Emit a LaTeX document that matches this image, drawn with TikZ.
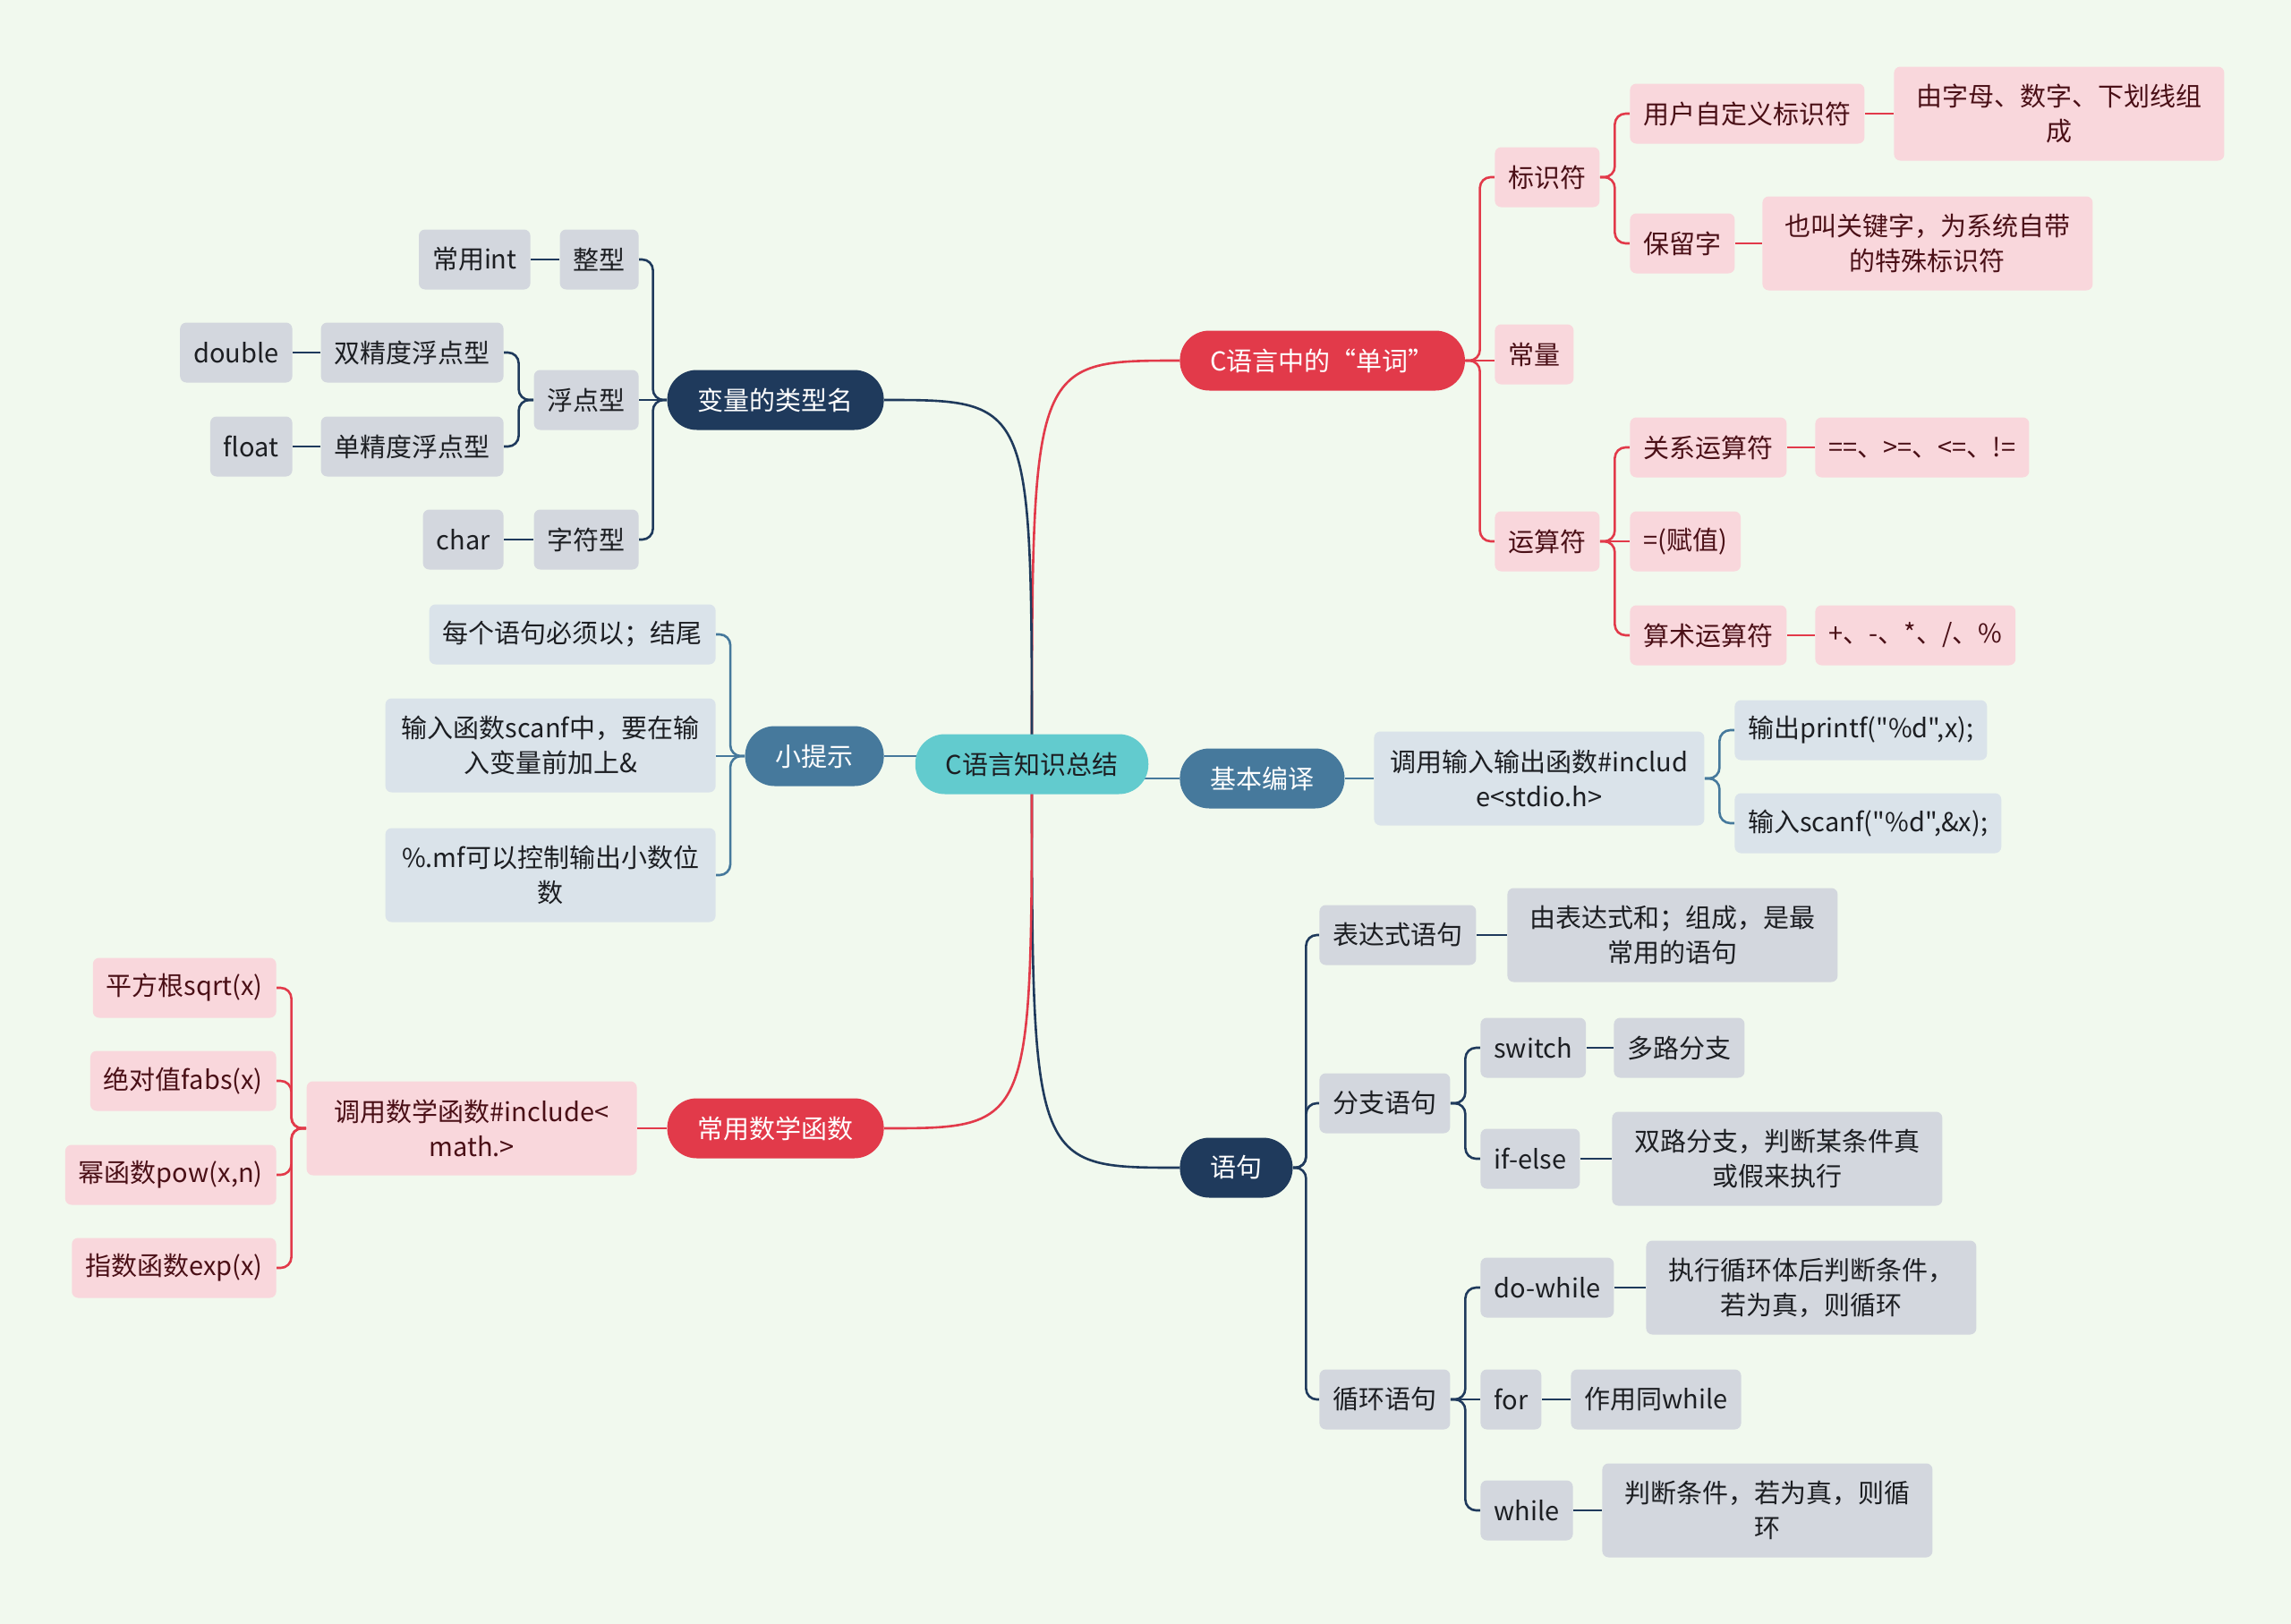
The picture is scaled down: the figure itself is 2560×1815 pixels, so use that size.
\documentclass[tikz,border=0pt]{standalone}
\usepackage{fontspec}
\setmainfont{Noto Sans CJK SC}[Ligatures=TeXOff]
\usepackage{tikz}
\usetikzlibrary{calc,backgrounds}
\definecolor{bgc}{HTML}{F1F9EE}
\definecolor{rootc}{HTML}{62CBCE}
\definecolor{redc}{HTML}{E23A4A}
\definecolor{navyc}{HTML}{1F3A5C}
\definecolor{bluec}{HTML}{46799C}
\definecolor{pinkc}{HTML}{F9D7DC}
\definecolor{grayc}{HTML}{D3D7DE}
\definecolor{paleblue}{HTML}{DAE3EA}
\definecolor{maroonc}{HTML}{4A0F16}
\definecolor{inkc}{HTML}{1C1E22}

\begin{document}
\begin{tikzpicture}[x=0.5pt, y=-0.5pt,
    every node/.style={font=\fontsize{14.5}{19.5}\selectfont, inner ysep=0pt, minimum height=33.5pt},
    mainbox/.style={fill=#1, text=white, rounded corners=16.5pt, inner xsep=17pt},
    leafbox/.style={fill=#1, rounded corners=3.5pt, inner xsep=7.5pt},
    redleaf/.style={leafbox=pinkc, text=maroonc},
    grayleaf/.style={leafbox=grayc, text=inkc},
    blueleaf/.style={leafbox=paleblue, text=inkc},
    wide/.style={align=center, minimum width=184.5pt, minimum height=52.5pt},
    link/.style={draw=#1, line width=1.3pt},
    fork/.style={link=#1, rounded corners=6pt, to path={-| ($(\tikztostart)!.5!(\tikztotarget)$) |- (\tikztotarget)}},
]
    \useasboundingbox(0,0)rectangle(2560,1815);
    % root
    \node[fill=rootc, text=inkc, rounded corners=16.5pt, inner xsep=17pt](root)at(1153,854){C语言知识总结};
    % main topics
    \node[mainbox=redc, anchor=west](word)at(1318,403){C语言中的“单词”};
    \node[mainbox=bluec, anchor=west](basic)at(1318,870){基本编译};
    \node[mainbox=navyc, anchor=west](stmt)at(1318,1305){语句};
    \node[mainbox=navyc, anchor=east](vars)at(988,447){变量的类型名};
    \node[mainbox=bluec, anchor=east](tips)at(988,845){小提示};
    \node[mainbox=redc, anchor=east](math)at(988,1261){常用数学函数};
    % words
    \node[redleaf, anchor=west](ident)at(1670,198){标识符};
    \node[redleaf, anchor=west](const)at(1670,396){常量};
    \node[redleaf, anchor=west](oper)at(1670,605){运算符};
    \node[redleaf, anchor=west](user)at(1821,127){用户自定义标识符};
    \node[redleaf, wide, anchor=west](userdesc)at(2116,127){由字母、数字、下划线组\\成};
    \node[redleaf, anchor=west](reserved)at(1821,272){保留字};
    \node[redleaf, wide, anchor=west](resdesc)at(1969,272){也叫关键字，为系统自带\\的特殊标识符};
    \node[redleaf, anchor=west](rel)at(1821,500){关系运算符};
    \node[redleaf, anchor=west](reldesc)at(2028,500){==、>=、<=、!=};
    \node[redleaf, anchor=west](assign)at(1821,605){=(赋值)};
    \node[redleaf, anchor=west](arith)at(1821,710){算术运算符};
    \node[redleaf, anchor=west](arithdesc)at(2028,710){+、-、*、/、\%};
    % compile
    \node[blueleaf, wide, anchor=west](stdio)at(1535,870){调用输入输出函数\#includ\\e<stdio.h>};
    \node[blueleaf, anchor=west](printf)at(1938,816){输出printf("\%d",x);};
    \node[blueleaf, anchor=west](scanf)at(1938,920){输入scanf("\%d",\&x);};
    % statements
    \node[grayleaf, anchor=west](expr)at(1474,1045){表达式语句};
    \node[grayleaf, wide, anchor=west](exprdesc)at(1684,1045){由表达式和；组成，是最\\常用的语句};
    \node[grayleaf, anchor=west](branch)at(1474,1233){分支语句};
    \node[grayleaf, anchor=west](swi)at(1654,1171){switch};
    \node[grayleaf, anchor=west](multi)at(1803,1171){多路分支};
    \node[grayleaf, anchor=west](ifelse)at(1654,1295){if-else};
    \node[grayleaf, wide, anchor=west](dual)at(1801,1295){双路分支，判断某条件真\\或假来执行};
    \node[grayleaf, anchor=west](loop)at(1474,1564){循环语句};
    \node[grayleaf, anchor=west](dowhile)at(1654,1439){do-while};
    \node[grayleaf, wide, anchor=west](dodesc)at(1839,1439){执行循环体后判断条件，\\若为真，则循环};
    \node[grayleaf, anchor=west](forloop)at(1654,1564){for};
    \node[grayleaf, anchor=west](fordesc)at(1755,1564){作用同while};
    \node[grayleaf, anchor=west](whileloop)at(1654,1688){while};
    \node[grayleaf, wide, anchor=west](whiledesc)at(1790,1688){判断条件，若为真，则循\\环};
    % variable types
    \node[grayleaf, anchor=east](inttype)at(714,290){整型};
    \node[grayleaf, anchor=east](intkw)at(593,290){常用int};
    \node[grayleaf, anchor=east](floattype)at(714,447){浮点型};
    \node[grayleaf, anchor=east](double)at(563,394){双精度浮点型};
    \node[grayleaf, anchor=east](doublekw)at(327,394){double};
    \node[grayleaf, anchor=east](single)at(563,499){单精度浮点型};
    \node[grayleaf, anchor=east](floatkw)at(327,499){float};
    \node[grayleaf, anchor=east](chartype)at(714,603){字符型};
    \node[grayleaf, anchor=east](charkw)at(563,603){char};
    % tips
    \node[blueleaf, anchor=east](tipa)at(800,709){每个语句必须以；结尾};
    \node[blueleaf, wide, anchor=east](tipb)at(800,833){输入函数scanf中，要在输\\入变量前加上\&};
    \node[blueleaf, wide, anchor=east](tipc)at(800,978){\%.mf可以控制输出小数位\\数};
    % math
    \node[redleaf, wide, anchor=east](mathinc)at(712,1261){调用数学函数\#include<\\math.>};
    \node[redleaf, anchor=east](sqrt)at(309,1104){平方根sqrt(x)};
    \node[redleaf, anchor=east](fabs)at(309,1208){绝对值fabs(x)};
    \node[redleaf, anchor=east](pow)at(309,1313){幂函数pow(x,n)};
    \node[redleaf, anchor=east](exp)at(309,1417){指数函数exp(x)};

    \begin{scope}[on background layer]
        \fill[bgc](0,0)rectangle(2560,1815);
        % branches from root
        \path[link=redc](root.center)..controls(root.center|-word.west)..(word.west);
        \path[link=navyc](root.center)..controls(root.center|-stmt.west)..(stmt.west);
        \path[link=navyc](root.center)..controls(root.center|-vars.east)..(vars.east);
        \path[link=redc](root.center)..controls(root.center|-math.east)..(math.east);
        \path[link=bluec](root.center|-basic.west)--(basic.west);
        \path[link=bluec](root.center|-tips.east)--(tips.east);
        % right side
        \foreach \c in {ident,oper}\path[fork=redc](word.east)to(\c.west);
        \path[link=redc](word.east)--(word.east-|const.west);
        \path[fork=redc](ident.east)to(user.west);
        \path[fork=redc](ident.east)to(reserved.west);
        \foreach \c in {rel,arith}\path[fork=redc](oper.east)to(\c.west);
        \path[link=redc](oper.east)--(assign.west);
        \path[link=redc](user.east)--(userdesc.west);
        \path[link=redc](reserved.east)--(resdesc.west);
        \path[link=redc](rel.east)--(reldesc.west);
        \path[link=redc](arith.east)--(arithdesc.west);
        \path[link=bluec](basic.east)--(stdio.west);
        \foreach \c in {printf,scanf}\path[fork=bluec](stdio.east)to(\c.west);
        \foreach \c in {expr,branch,loop}\path[fork=navyc](stmt.east)to(\c.west);
        \path[link=navyc](expr.east)--(exprdesc.west);
        \foreach \c in {swi,ifelse}\path[fork=navyc](branch.east)to(\c.west);
        \path[link=navyc](swi.east)--(multi.west);
        \path[link=navyc](ifelse.east)--(dual.west);
        \foreach \c in {dowhile,whileloop}\path[fork=navyc](loop.east)to(\c.west);
        \path[link=navyc](loop.east)--(forloop.west);
        \path[link=navyc](dowhile.east)--(dodesc.west);
        \path[link=navyc](forloop.east)--(fordesc.west);
        \path[link=navyc](whileloop.east)--(whiledesc.west);
        % left side
        \foreach \c in {inttype,chartype}\path[fork=navyc](vars.west)to(\c.east);
        \path[link=navyc](vars.west)--(floattype.east);
        \path[link=navyc](inttype.west)--(intkw.east);
        \foreach \c in {double,single}\path[fork=navyc](floattype.west)to(\c.east);
        \path[link=navyc](double.west)--(doublekw.east);
        \path[link=navyc](single.west)--(floatkw.east);
        \path[link=navyc](chartype.west)--(charkw.east);
        \foreach \c in {tipa,tipc}\path[fork=bluec](tips.west)to(\c.east);
        \path[link=bluec](tips.west)--(tips.west-|tipb.east);
        \path[link=redc](math.west)--(mathinc.east);
        \foreach \c in {sqrt,fabs,pow,exp}\path[fork=redc](mathinc.west)to(\c.east);
    \end{scope}
\end{tikzpicture}
\end{document}
